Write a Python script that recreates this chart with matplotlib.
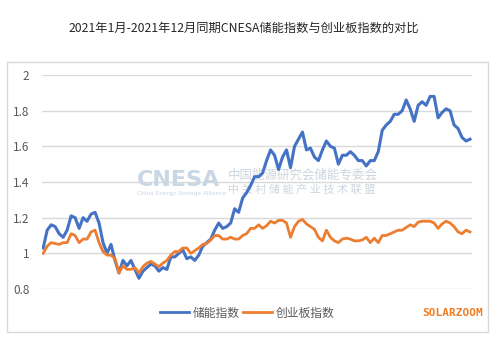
import matplotlib
matplotlib.use("Agg")
import matplotlib.pyplot as plt
from matplotlib.patches import Rectangle
from matplotlib.lines import Line2D

plt.rcParams['font.family'] = ['Noto Sans CJK SC', 'DejaVu Sans']

# --- Data (normalised index, 2021-01 .. 2021-12, evenly sampled) ---
storage_index = [
    1.03, 1.13, 1.16, 1.15, 1.11, 1.09, 1.13, 1.21, 1.20, 1.14,
    1.20, 1.18, 1.22, 1.23, 1.17, 1.06, 1.00, 1.05, 0.96, 0.89,
    0.96, 0.93, 0.96, 0.91, 0.86, 0.90, 0.92, 0.94, 0.93, 0.90,
    0.92, 0.91, 0.98, 0.98, 1.00, 1.02, 0.97, 0.98, 0.96, 0.99,
    1.04, 1.06, 1.08, 1.13, 1.17, 1.14, 1.15, 1.17, 1.25, 1.23,
    1.31, 1.34, 1.38,
    1.43, 1.43, 1.45, 1.52, 1.58, 1.55, 1.47, 1.54, 1.58, 1.48,
    1.60, 1.64, 1.68, 1.58, 1.59, 1.54, 1.52, 1.58, 1.63, 1.60,
    1.59, 1.50, 1.55, 1.55, 1.57, 1.55, 1.52, 1.52, 1.49, 1.52,
    1.52, 1.57, 1.69, 1.72, 1.74, 1.78, 1.78, 1.80, 1.86, 1.81,
    1.74, 1.83, 1.85, 1.83, 1.88, 1.88, 1.76, 1.79, 1.81, 1.80,
    1.72, 1.70, 1.65, 1.63, 1.64,
]
chinext_index = [
    1.00, 1.04, 1.06, 1.055, 1.05, 1.06, 1.06, 1.11, 1.10, 1.06,
    1.08, 1.08, 1.12, 1.13, 1.06, 1.01, 0.99, 0.99, 0.97, 0.89,
    0.93, 0.91, 0.91, 0.92, 0.89, 0.925, 0.945, 0.955, 0.94, 0.925,
    0.945, 0.96, 0.99, 1.01, 1.01, 1.03, 1.03, 1.00, 1.015, 1.03,
    1.05, 1.055, 1.075, 1.10, 1.10, 1.08, 1.08, 1.09, 1.08, 1.08,
    1.10, 1.11, 1.14,
    1.14, 1.16, 1.14, 1.155, 1.18, 1.17, 1.185, 1.185, 1.17, 1.09,
    1.15, 1.18, 1.19, 1.165, 1.15, 1.135, 1.09, 1.07, 1.13, 1.09,
    1.07, 1.06, 1.08, 1.085, 1.08, 1.07, 1.07, 1.075, 1.09, 1.06,
    1.085, 1.06, 1.10, 1.10, 1.11, 1.12, 1.13, 1.13, 1.145, 1.16,
    1.15, 1.175, 1.18, 1.18, 1.18, 1.17, 1.14, 1.165, 1.18, 1.17,
    1.15, 1.12, 1.11, 1.13, 1.12,
]
series_labels = ["储能指数", "创业板指数"]
y_ticks = [0.8, 1.0, 1.2, 1.4, 1.6, 1.8, 2.0]
title = "2021年1月-2021年12月同期CNESA储能指数与创业板指数的对比"

blue = "#4472C4"
orange = "#ED7D31"
grey_text = "#595959"

fig = plt.figure(figsize=(5.0, 3.41), dpi=100)
fig.patch.set_facecolor("white")

# outer chart frame
fig.patches.append(Rectangle((0.014, 0.026), 0.962, 0.792, transform=fig.transFigure,
                             fill=False, edgecolor="#d9d9d9", linewidth=1))

fig.text(0.487, 0.918, title, ha="center", va="center", fontsize=8.8, color="#262626")

ax = fig.add_axes([0.084, 0.1525, 0.86, 0.6275])
x = list(range(len(storage_index)))
ax.plot(x, storage_index, color=blue, linewidth=2.2, solid_joinstyle="round", zorder=3)
ax.plot(x, chinext_index, color=orange, linewidth=2.0, solid_joinstyle="round", zorder=3)

ax.set_xlim(-0.3, len(x) - 1 + 0.5)
ax.set_ylim(0.8, 2.0)
ax.set_yticks(y_ticks)
ax.set_yticklabels([f"{v:g}" for v in y_ticks])
ax.set_xticks([])
ax.tick_params(axis="y", length=0, pad=9, labelsize=8.5, labelcolor=grey_text)
ax.grid(axis="y", color="#d9d9d9", linewidth=1)
ax.set_axisbelow(True)
for s in ax.spines.values():
    s.set_visible(False)

# watermark
wm = "#c9d6e4"
ax.text(0.22, 0.51, "CNESA", transform=ax.transAxes, fontsize=16, fontweight="bold",
        color=wm, ha="left", va="center", family="DejaVu Sans", zorder=1)
ax.text(0.22, 0.447, "China Energy Storage Alliance", transform=ax.transAxes, fontsize=4.2,
        color=wm, ha="left", va="center", family="DejaVu Sans", zorder=1)
ax.text(0.432, 0.532, "中国能源研究会储能专委会", transform=ax.transAxes, fontsize=9,
        color="#cdd5de", ha="left", va="center", zorder=1)
ax.text(0.432, 0.463, "中 关 村 储 能 产 业 技 术 联 盟", transform=ax.transAxes, fontsize=8,
        color="#cdd5de", ha="left", va="center", zorder=1)

handles = [Line2D([], [], color=blue, linewidth=2.0),
           Line2D([], [], color=orange, linewidth=2.0)]
leg = fig.legend(handles, series_labels, loc="center", bbox_to_anchor=(0.495, 0.082), ncol=2,
                 frameon=False, fontsize=8.5, handlelength=2.4, handletextpad=0.35,
                 columnspacing=0.3)
for t in leg.get_texts():
    t.set_color(grey_text)

fig.text(0.966, 0.082, "SOLARZOOM", ha="right", va="center", fontsize=8,
         color="#F07C22", family="DejaVu Sans Mono", fontweight="bold")

fig.savefig("out.png", dpi=100)
